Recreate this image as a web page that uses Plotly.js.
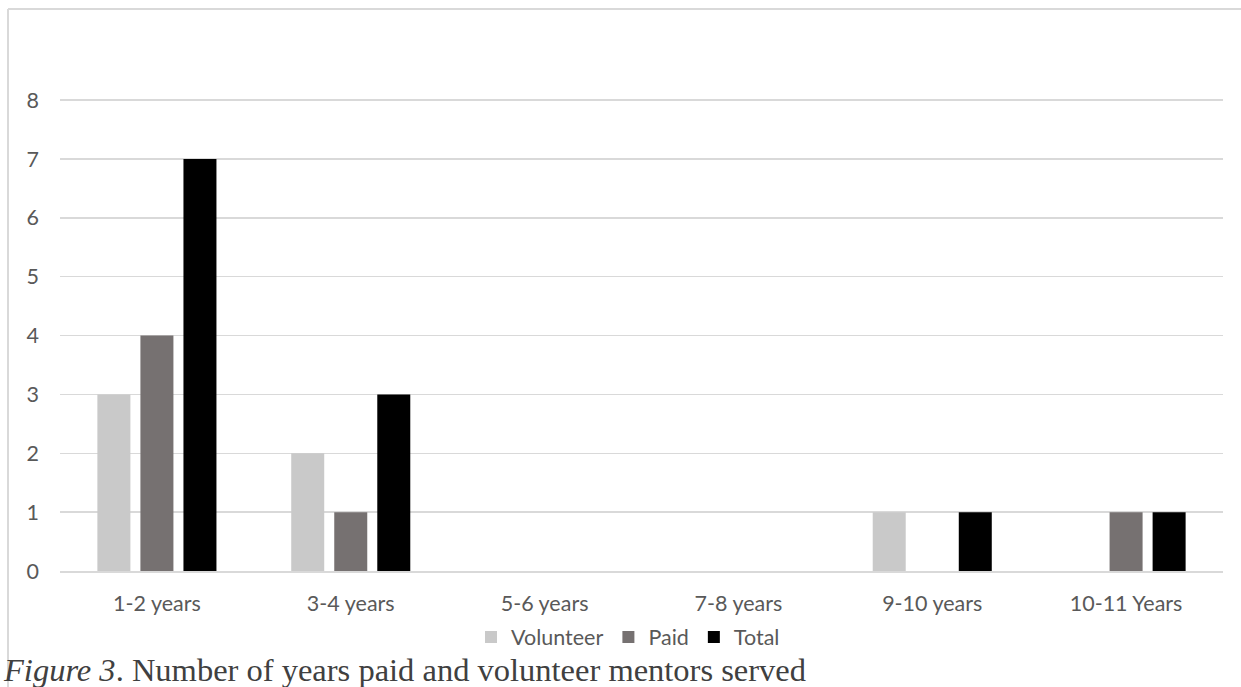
<!DOCTYPE html>
<html>
<head>
<meta charset="utf-8">
<script src="https://cdn.plot.ly/plotly-3.0.1.min.js"></script>
<style>
html,body{margin:0;padding:0;background:#fff;}
#chart{width:1241px;height:687px;}
</style>
</head>
<body>
<div id="chart"></div>
<script>
const categories = ["1-2 years", "3-4 years", "5-6 years", "7-8 years", "9-10 years", "10-11 Years"];
const volunteer = [3, 2, 0, 0, 1, 0];
const paid = [4, 1, 0, 0, 0, 1];
const total = [7, 3, 0, 0, 1, 1];
const yTicks = [0, 1, 2, 3, 4, 5, 6, 7, 8];
const caption = "<i>Figure 3</i>. Number of years paid and volunteer mentors served";

const W = 1241, H = 687;
const L = 60, R = 18, T = 99, B = 116;
const pw = W - L - R, ph = H - T - B;
const px = x => (x - L) / pw;
const py = y => (H - B - y) / ph;

const font = {family: "Lato, 'Open Sans', sans-serif", size: 21.5, color: "#595959"};

const traces = [
  {name: "Volunteer", values: volunteer, color: "#c9c9c9"},
  {name: "Paid", values: paid, color: "#767171"},
  {name: "Total", values: total, color: "#000000"}
].map(s => ({
  type: "bar",
  x: categories,
  y: s.values,
  name: s.name,
  marker: {color: s.color, line: {width: 0}},
  hoverinfo: "skip"
}));

const layout = {
  width: W, height: H,
  margin: {l: L, r: R, t: T, b: B},
  paper_bgcolor: "#ffffff",
  plot_bgcolor: "#ffffff",
  font: font,
  barmode: "group",
  bargap: 0.334,
  bargroupgap: 0.233,
  showlegend: true,
  legend: {
    orientation: "h",
    x: px(628), xanchor: "center",
    y: py(637), yanchor: "middle",
    font: font,
    itemwidth: 30,
    traceorder: "normal"
  },
  xaxis: {
    type: "category",
    showgrid: false,
    showline: true,
    linecolor: "#d9d9d9",
    linewidth: 1.5,
    ticks: "",
    tickfont: font,
    ticklabelstandoff: 13,
    fixedrange: true
  },
  yaxis: {
    range: [0, 8.02],
    tickvals: yTicks,
    ticktext: yTicks.map(String),
    showgrid: true,
    gridcolor: "#d9d9d9",
    gridwidth: 1.5,
    zeroline: false,
    showline: false,
    ticks: "",
    tickfont: font,
    ticklabelstandoff: 20,
    fixedrange: true
  },
  shapes: [
    {type: "line", xref: "paper", yref: "paper", x0: px(8), x1: px(8), y0: py(9), y1: py(H + 5), line: {color: "#d9d9d9", width: 2}},
    {type: "line", xref: "paper", yref: "paper", x0: px(8), x1: px(W + 5), y0: py(9), y1: py(9), line: {color: "#d9d9d9", width: 2}}
  ],
  annotations: [
    {
      text: caption,
      xref: "paper", yref: "paper",
      x: px(1), xanchor: "left",
      y: py(670), yanchor: "middle",
      showarrow: false,
      font: {family: "'Liberation Serif', 'Times New Roman', serif", size: 32.5, color: "#404040"}
    }
  ]
};

Plotly.newPlot("chart", traces, layout, {displayModeBar: false, staticPlot: true});
</script>
</body>
</html>
